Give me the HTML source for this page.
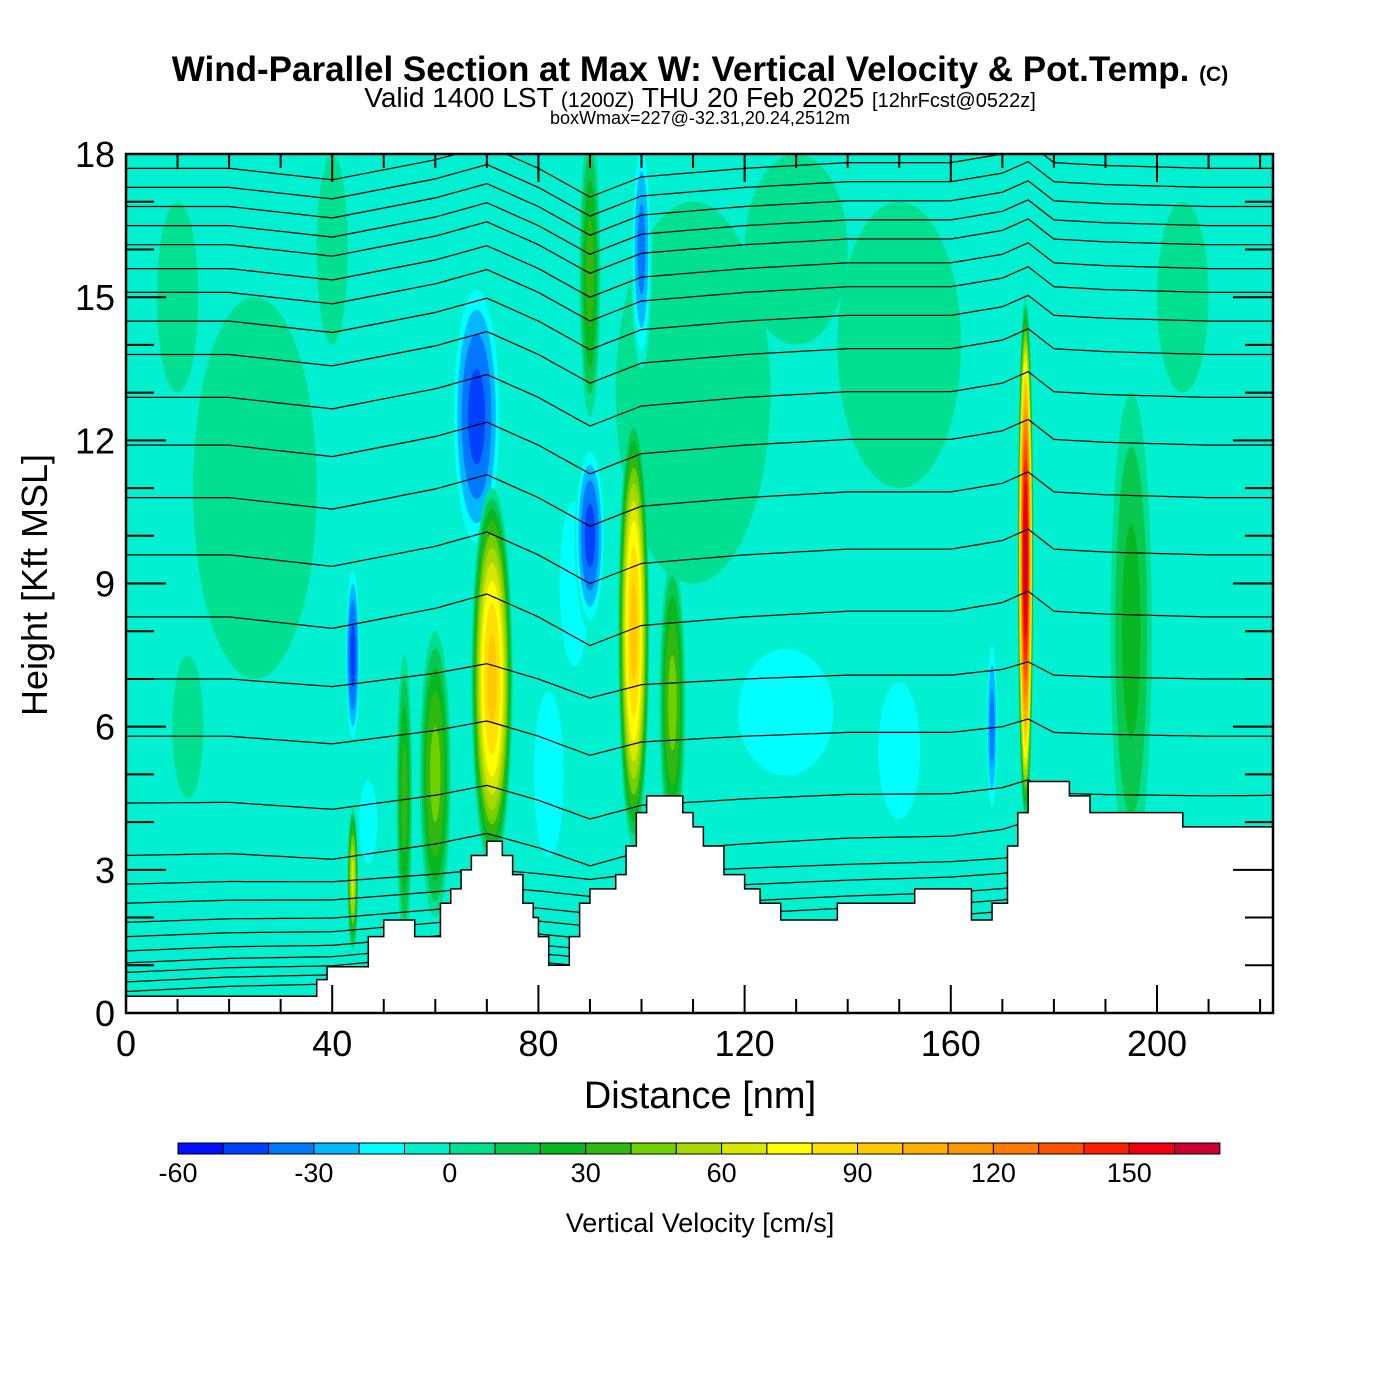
<!DOCTYPE html>
<html><head><meta charset="utf-8"><style>
body{margin:0;background:#fff;}
svg{display:block;font-family:"Liberation Sans",sans-serif;}
</style></head><body>
<svg id="chart" width="1400" height="1400" viewBox="0 0 1400 1400" xmlns="http://www.w3.org/2000/svg">
<rect width="1400" height="1400" fill="#fff"/>
<text x="700" y="81" text-anchor="middle" font-size="35" font-weight="bold">Wind-Parallel Section at Max W: Vertical Velocity &amp; Pot.Temp. <tspan font-size="21">(C)</tspan></text>
<text x="700" y="107" text-anchor="middle" font-size="28">Valid 1400 LST <tspan font-size="21">(1200Z)</tspan> THU 20 Feb 2025 <tspan font-size="20">[12hrFcst@0522z]</tspan></text>
<text x="700" y="124" text-anchor="middle" font-size="18">boxWmax=227@-32.31,20.24,2512m</text>
<defs><clipPath id="pc"><rect x="126" y="154" width="1147" height="859"/></clipPath></defs>
<g id="plot" clip-path="url(#pc)"></g>
<g id="axes"></g>
<g id="cbar"></g>
<text x="700" y="1108" text-anchor="middle" font-size="38">Distance [nm]</text>
<text transform="translate(47,585) rotate(-90)" text-anchor="middle" font-size="36">Height [Kft MSL]</text>
<text x="700" y="1232" text-anchor="middle" font-size="27">Vertical Velocity [cm/s]</text>
</svg>
<script>
// ---- data ----
const xTicks=[0,40,80,120,160,200];
const yTicks=[0,3,6,9,12,15,18];
const levels=[-60,-50,-40,-30,-20,-10,0,10,20,30,40,50,60,70,80,90,100,110,120,130,140,150,160,170];
const levelColors=["#0010ff","#0040ff","#0078ff","#00b8ff","#00ffff","#00f0d0","#00e090","#08c850","#08b820","#30b810","#70d000","#a8d800","#d8e800","#ffff00","#ffe000","#ffc800","#ffb000","#ff9800","#ff7800","#ff5000","#ff2000","#ee0010","#cc0030"];
const cbarLabels=[-60,-30,0,30,60,90,120,150];
// blobs: center x (nm), center height (kft), peak (cm/s), half-width (nm), half-height (kft)
const blobX=[25,110,150,205,40,130,10,87,128,82,47,150,68,44,90,100,168,71,98.5,106,174.5,60,54,44,195,90,12];
const blobY=[11,13,14,15,16,16,15,9,6.3,5,4,5.5,12.5,7.5,10,16,6,7,8,6.5,9.5,5,4.5,2.8,8,15.5,6];
const blobV=[5,5,5,5,5,5,5,-15,-15,-15,-15,-15,-45,-45,-45,-35,-35,95,95,45,165,45,35,65,25,35,5];
const blobW=[12,15,12,5,3,10,4,5,16,5,3,7,5,1.5,3,2,1.2,4,3,2.5,1.5,3,1.5,1,4,2,3];
const blobH=[4,4,3,2,2,2,2,3,2.3,3,1.5,2.5,3,2,2,2.5,2,4,4.5,3,5.5,3,3,1.5,5,3,1.5];
// terrain steps
const terrX=[0,37,39,47,50,56,61,63,65,67,70,73,75,77,79,80,82,86,88,90,95,97,99,101,108,110,112,116,120,123,127,138,153,164,168,171,173,175,183,187,205,223];
const terrH=[0.35,0.7,0.97,1.6,1.95,1.6,2.3,2.6,3.0,3.3,3.6,3.3,2.9,2.3,2.0,1.6,1.0,1.6,2.3,2.6,2.9,3.5,4.2,4.55,4.2,3.9,3.5,2.9,2.6,2.3,1.95,2.3,2.6,1.95,2.3,3.5,4.2,4.85,4.55,4.2,3.9,3.9];
// theta contour base heights at left edge (kft)
const thetaBase=[0.45,0.65,0.85,1.05,1.3,1.6,1.9,2.3,2.7,3.3,4.4,5.8,7.0,8.3,9.6,10.8,11.9,12.9,13.8,14.5,15.1,15.6,16.1,16.5,16.9,17.3,17.7];
const devX=[0,20,40,60,70,80,90,100,120,140,160,170,175,180,190,210,223];
const devH=[0,0,-0.4,0.3,0.8,0,-1.0,-0.3,0,0.2,0.2,0.5,0.9,0.2,0.1,0,0];
// ---- scales ----
const X=v=>126+v*5.155, Y=h=>1013-h*47.72;
const NS="http://www.w3.org/2000/svg";
function mk(t,p,a){const e=document.createElementNS(NS,t);for(const k in a)e.setAttribute(k,a[k]);p.appendChild(e);return e;}
const plot=document.getElementById('plot'),axes=document.getElementById('axes'),cb=document.getElementById('cbar');
function colorFor(v){for(let i=0;i<levelColors.length;i++){if(v<levels[i+1])return levelColors[i];}return levelColors[levelColors.length-1];}
const bg=mk('rect',plot,{x:126,y:154,width:1147,height:859,fill:"#00f0d0"});


blobV.forEach((pk,i)=>{
  const g=mk('g',plot,{});
  
  
  const steps=[];
  if(pk>0){for(let l=0;l<pk;l+=10)steps.push(l);} else {for(let l=0;l>pk;l-=10)steps.push(l);}
  steps.forEach(l=>{
    const f=Math.sqrt(Math.max(1-Math.abs(l)/Math.abs(pk),0.02));
    const val=pk>0?l+5:l-5;
    mk('ellipse',g,{cx:X(blobX[i]),cy:Y(blobY[i]),rx:blobW[i]*5.155*f,ry:blobH[i]*47.72*f,fill:colorFor(val)});
  });
});
function dev(x){for(let i=0;i<devX.length-1;i++){if(x<=devX[i+1]){const t=(x-devX[i])/(devX[i+1]-devX[i]);return devH[i]+t*(devH[i+1]-devH[i]);}}return 0;}
thetaBase.forEach((b,i)=>{
  const amp=b<3?0.15:(b<8?0.4:0.6);
  const pts=[];
  for(let x=0;x<=223;x+=1){pts.push(X(x).toFixed(1)+','+Y(b+dev(x)*amp+(b<5?x*0.006*(5-b)/5:0)).toFixed(1));}
  const pl=mk('polyline',plot,{points:pts.join(' '),fill:'none',stroke:'#000','stroke-width':1.2});
  
  
});
let tp='M'+X(0)+','+Y(0);
terrX.forEach((x,i)=>{if(i<terrX.length-1){tp+=' L'+X(x)+','+Y(terrH[i])+' L'+X(terrX[i+1])+','+Y(terrH[i]);}});
tp+=' L'+X(223)+','+Y(0)+' Z';
const terr=mk('path',plot,{d:tp,fill:'#fff',stroke:'#000','stroke-width':1.5});


const fr=mk('rect',axes,{x:126,y:154,width:1147,height:859,fill:'none',stroke:'#000','stroke-width':2.5});


for(let v=0;v<=222;v+=10){const L=v%40===0?28:14;
  mk('line',axes,{x1:X(v),x2:X(v),y1:1013,y2:1013-L,stroke:'#000','stroke-width':2});
  mk('line',axes,{x1:X(v),x2:X(v),y1:154,y2:154+L,stroke:'#000','stroke-width':2});}
for(let h=0;h<=18;h++){const L=h%3===0?40:28;
  mk('line',axes,{x1:126,x2:126+L,y1:Y(h),y2:Y(h),stroke:'#000','stroke-width':2});
  mk('line',axes,{x1:1273,x2:1273-L,y1:Y(h),y2:Y(h),stroke:'#000','stroke-width':2});}
xTicks.forEach(v=>{const t=mk('text',axes,{x:X(v),y:1056,'text-anchor':'middle','font-size':36});t.textContent=v;
  
  });
yTicks.forEach(v=>{const t=mk('text',axes,{x:115,y:Y(v)+13,'text-anchor':'end','font-size':36});t.textContent=v;
  
  });
const cx=v=>178+(v+60)*4.53;
levelColors.forEach((c,i)=>{const r=mk('rect',cb,{x:cx(levels[i]),y:1143,width:4.53*10,height:11,fill:c,stroke:'#000','stroke-width':1});
  
  });
cbarLabels.forEach(v=>{const t=mk('text',cb,{x:cx(v),y:1182,'text-anchor':'middle','font-size':27});t.textContent=v;
  
  });
</script>
</body></html>
